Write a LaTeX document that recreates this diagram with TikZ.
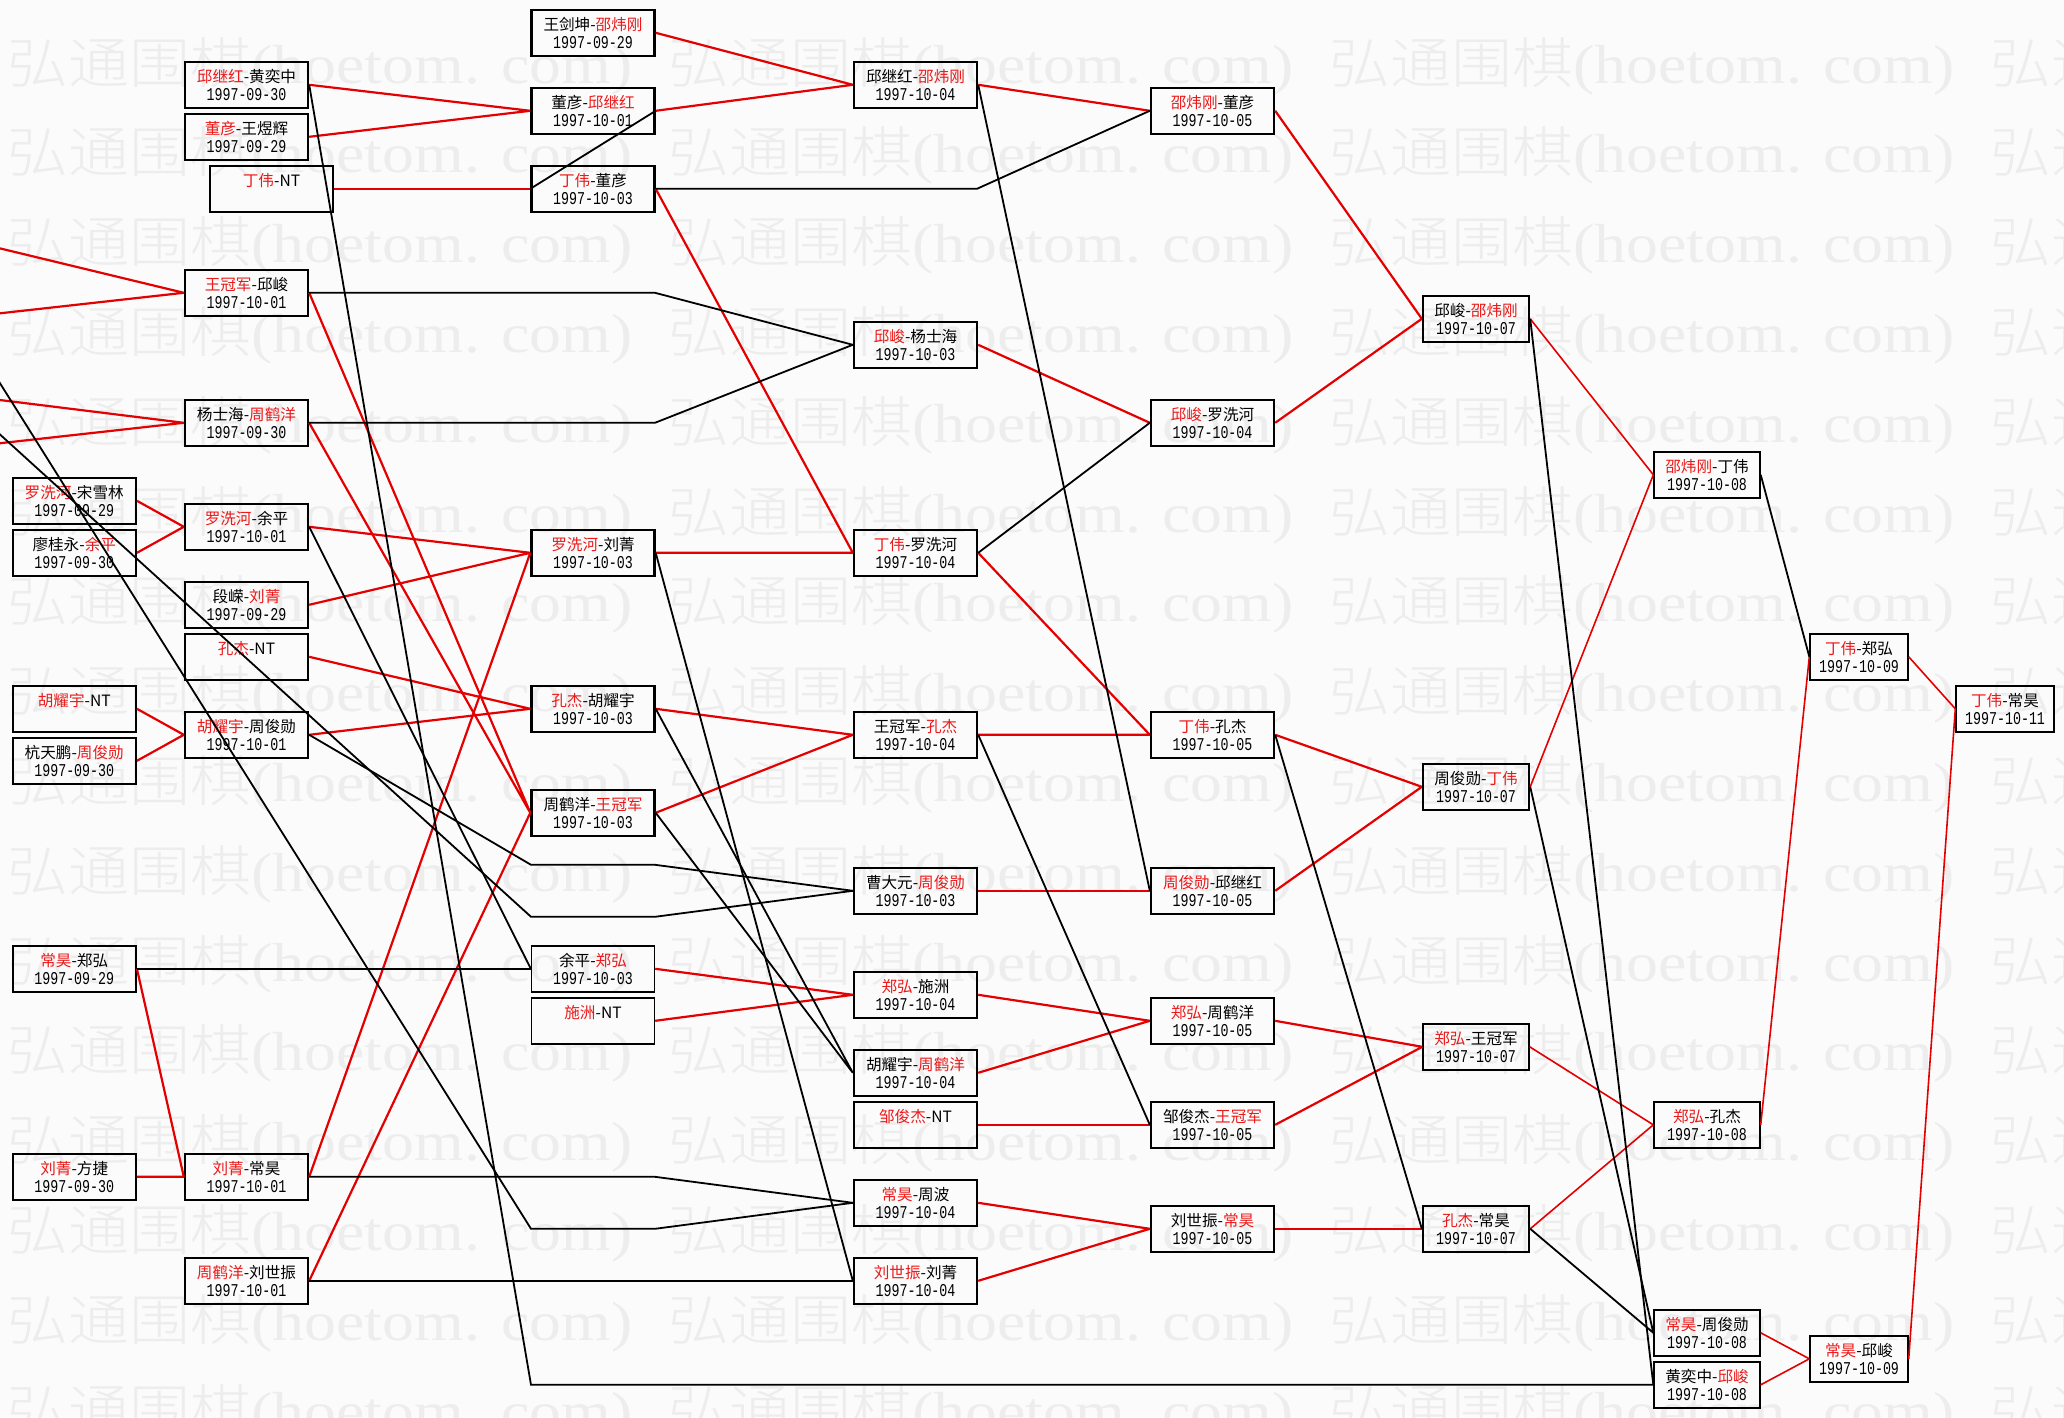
\documentclass[tikz,border=0pt]{standalone}
\usepackage{fontspec}
\usepackage{xcolor}
\usepackage{tikz}
\newfontfamily\namecjk{Noto Sans CJK SC}
\newfontfamily\datefont[FakeStretch=0.74]{Liberation Mono}
\newfontfamily\wmcjk[FakeStretch=1.11]{Noto Sans CJK SC Light}
\newfontfamily\wmlat[FakeStretch=1.16]{Liberation Serif}
\definecolor{tred}{RGB}{235,25,25}
\definecolor{lred}{RGB}{228,0,0}
\definecolor{paper}{RGB}{251,251,251}
\definecolor{wmgray}{RGB}{237,237,237}
\newcommand\rn[1]{\textcolor{tred}{#1}}
\newcommand\dt[1]{{\datefont\fontsize{9}{9}\selectfont #1}}

\begin{document}
\begin{tikzpicture}[x=0.5pt, y=-0.5pt,
    game/.style={draw, rectangle, line width=1.2pt, minimum width=61.5pt, minimum height=23pt,
      inner sep=0pt, align=center, font=\namecjk\fontsize{7.8}{9}\selectfont},
    light/.style={line width=0.7pt},
    midbox/.style={game, minimum width=53pt},
    endbox/.style={game, minimum width=49pt},
    win/.style={draw=lred, line width=1.1pt},
    winthin/.style={draw=lred, line width=0.8pt},
    lose/.style={draw=black, line width=0.9pt},
    wm/.style={anchor=west, inner sep=0pt, text=wmgray}
  ]
  \useasboundingbox (0,0) rectangle (2064,1417);
  \clip (0,0) rectangle (2064,1417);
  \fill[paper] (0,0) rectangle (2064,1417);

  \foreach \j in {0,...,15}
    \foreach \i in {0,...,3}
      \node[wm] at ({7+661*\i},{66+89.8*\j})
        {\wmcjk\fontsize{27.5}{27.5}\selectfont 弘通围棋\wmlat(hoetom. com)};

  \node[game] (a19) at (74.25,500.8) {\rn{罗洗河}-宋雪林\\\dt{1997-09-29}};
  \node[game] (a21) at (74.25,552.8) {廖桂永-\rn{余平}\\\dt{1997-09-30}};
  \node[game] (a27) at (74.25,708.8) {\rn{胡耀宇}-NT\\\dt{\phantom{0}}};
  \node[game] (a29) at (74.25,760.8) {杭天鹏-\rn{周俊勋}\\\dt{1997-09-30}};
  \node[game] (a37) at (74.25,968.8) {\rn{常昊}-郑弘\\\dt{1997-09-29}};
  \node[game] (a45) at (74.25,1176.8) {\rn{刘菁}-方捷\\\dt{1997-09-30}};

  \node[game] (b3) at (246.5,84.8) {\rn{邱继红}-黄奕中\\\dt{1997-09-30}};
  \node[game] (b5) at (246.5,136.8) {\rn{董彦}-王煜辉\\\dt{1997-09-29}};
  \node[game] (b7) at (271.5,188.8) {\rn{丁伟}-NT\\\dt{\phantom{0}}};
  \node[game] (b11) at (246.5,292.8) {\rn{王冠军}-邱峻\\\dt{1997-10-01}};
  \node[game] (b16) at (246.5,422.8) {杨士海-\rn{周鹤洋}\\\dt{1997-09-30}};
  \node[game] (b20) at (246.5,526.8) {\rn{罗洗河}-余平\\\dt{1997-10-01}};
  \node[game] (b23) at (246.5,604.8) {段嵘-\rn{刘菁}\\\dt{1997-09-29}};
  \node[game] (b25) at (246.5,656.8) {\rn{孔杰}-NT\\\dt{\phantom{0}}};
  \node[game] (b28) at (246.5,734.8) {\rn{胡耀宇}-周俊勋\\\dt{1997-10-01}};
  \node[game] (b45) at (246.5,1176.8) {\rn{刘菁}-常昊\\\dt{1997-10-01}};
  \node[game] (b49) at (246.5,1280.8) {\rn{周鹤洋}-刘世振\\\dt{1997-10-01}};

  \node[game] (c1) at (593,32.8) {王剑坤-\rn{邵炜刚}\\\dt{1997-09-29}};
  \node[game] (c4) at (593,110.8) {董彦-\rn{邱继红}\\\dt{1997-10-01}};
  \node[game] (c7) at (593,188.8) {\rn{丁伟}-董彦\\\dt{1997-10-03}};
  \node[game] (c21) at (593,552.8) {\rn{罗洗河}-刘菁\\\dt{1997-10-03}};
  \node[game] (c27) at (593,708.8) {\rn{孔杰}-胡耀宇\\\dt{1997-10-03}};
  \node[game] (c31) at (593,812.8) {周鹤洋-\rn{王冠军}\\\dt{1997-10-03}};
  \node[game, light] (c37) at (593,968.8) {余平-\rn{郑弘}\\\dt{1997-10-03}};
  \node[game, light] (c39) at (593,1020.8) {\rn{施洲}-NT\\\dt{\phantom{0}}};

  \node[game] (d3) at (915.5,84.8) {邱继红-\rn{邵炜刚}\\\dt{1997-10-04}};
  \node[game] (d13) at (915.5,344.8) {\rn{邱峻}-杨士海\\\dt{1997-10-03}};
  \node[game] (d21) at (915.5,552.8) {\rn{丁伟}-罗洗河\\\dt{1997-10-04}};
  \node[game] (d28) at (915.5,734.8) {王冠军-\rn{孔杰}\\\dt{1997-10-04}};
  \node[game] (d34) at (915.5,890.8) {曹大元-\rn{周俊勋}\\\dt{1997-10-03}};
  \node[game] (d38) at (915.5,994.8) {\rn{郑弘}-施洲\\\dt{1997-10-04}};
  \node[game] (d41) at (915.5,1072.8) {胡耀宇-\rn{周鹤洋}\\\dt{1997-10-04}};
  \node[game] (d43) at (915.5,1124.8) {\rn{邹俊杰}-NT\\\dt{\phantom{0}}};
  \node[game] (d46) at (915.5,1202.8) {\rn{常昊}-周波\\\dt{1997-10-04}};
  \node[game] (d49) at (915.5,1280.8) {\rn{刘世振}-刘菁\\\dt{1997-10-04}};

  \node[game] (e4) at (1212.5,110.8) {\rn{邵炜刚}-董彦\\\dt{1997-10-05}};
  \node[game] (e16) at (1212.5,422.8) {\rn{邱峻}-罗洗河\\\dt{1997-10-04}};
  \node[game] (e28) at (1212.5,734.8) {\rn{丁伟}-孔杰\\\dt{1997-10-05}};
  \node[game] (e34) at (1212.5,890.8) {\rn{周俊勋}-邱继红\\\dt{1997-10-05}};
  \node[game] (e39) at (1212.5,1020.8) {\rn{郑弘}-周鹤洋\\\dt{1997-10-05}};
  \node[game] (e43) at (1212.5,1124.8) {邹俊杰-\rn{王冠军}\\\dt{1997-10-05}};
  \node[game] (e47) at (1212.5,1228.8) {刘世振-\rn{常昊}\\\dt{1997-10-05}};

  \node[midbox] (f12) at (1476,318.8) {邱峻-\rn{邵炜刚}\\\dt{1997-10-07}};
  \node[midbox] (f30) at (1476,786.8) {周俊勋-\rn{丁伟}\\\dt{1997-10-07}};
  \node[midbox, light] (f40) at (1476,1046.8) {\rn{郑弘}-王冠军\\\dt{1997-10-07}};
  \node[midbox] (f47) at (1476,1228.8) {\rn{孔杰}-常昊\\\dt{1997-10-07}};

  \node[midbox, light] (g18) at (1707,474.8) {\rn{邵炜刚}-丁伟\\\dt{1997-10-08}};
  \node[midbox, light] (g43) at (1707,1124.8) {\rn{郑弘}-孔杰\\\dt{1997-10-08}};
  \node[midbox, light] (g51) at (1707,1332.8) {\rn{常昊}-周俊勋\\\dt{1997-10-08}};
  \node[midbox, light] (g53) at (1707,1384.8) {黄奕中-\rn{邱峻}\\\dt{1997-10-08}};

  \node[endbox, light] (h25) at (1859,656.8) {\rn{丁伟}-郑弘\\\dt{1997-10-09}};
  \node[endbox, light] (h52) at (1859,1358.8) {\rn{常昊}-邱峻\\\dt{1997-10-09}};

  \node[endbox, light] (i27) at (2005,708.8) {\rn{丁伟}-常昊\\\dt{1997-10-11}};

  \coordinate (o1) at (-60,233.9);
  \coordinate (o2) at (-60,320);
  \coordinate (o3) at (-60,392.6);
  \coordinate (o4) at (-60,449.9);
  \coordinate (cdy0) at (-60,380);
  \coordinate (zb0) at (-60,287.7);
  \coordinate (cdy1) at (531,916.8);
  \coordinate (cdy2) at (655,916.8);
  \coordinate (zjx1) at (531,864.8);
  \coordinate (zjx2) at (655,864.8);
  \coordinate (zb1) at (531,1228.8);
  \coordinate (zb2) at (655,1228.8);
  \coordinate (ch1) at (655,1176.8);
  \coordinate (hyz1) at (531,1384.8);
  \coordinate (qj1) at (655,292.8);
  \coordinate (ysh1) at (655,422.8);
  \coordinate (dy1) at (977,188.8);

  \draw[win] (o1) -- (b11.west) (o2) -- (b11.west);
  \draw[win] (o3) -- (b16.west) (o4) -- (b16.west);
  \draw[win] (a19.east) -- (b20.west) (a21.east) -- (b20.west);
  \draw[win] (a27.east) -- (b28.west) (a29.east) -- (b28.west);
  \draw[win] (a37.east) -- (b45.west) (a45.east) -- (b45.west);
  \draw[win] (b3.east) -- (c4.west) (b5.east) -- (c4.west);
  \draw[win] (b7.east) -- (c7.west);
  \draw[win] (b20.east) -- (c21.west) (b23.east) -- (c21.west) (b45.east) -- (c21.west);
  \draw[win] (b25.east) -- (c27.west) (b28.east) -- (c27.west);
  \draw[win] (b11.east) -- (c31.west) (b16.east) -- (c31.west) (b49.east) -- (c31.west);
  \draw[win] (c1.east) -- (d3.west) (c4.east) -- (d3.west);
  \draw[win] (c7.east) -- (d21.west) (c21.east) -- (d21.west);
  \draw[win] (c27.east) -- (d28.west) (c31.east) -- (d28.west);
  \draw[win] (c37.east) -- (d38.west) (c39.east) -- (d38.west);
  \draw[win] (d3.east) -- (e4.west);
  \draw[win] (d13.east) -- (e16.west);
  \draw[win] (d21.east) -- (e28.west) (d28.east) -- (e28.west);
  \draw[win] (d34.east) -- (e34.west);
  \draw[win] (d38.east) -- (e39.west) (d41.east) -- (e39.west);
  \draw[win] (d43.east) -- (e43.west);
  \draw[win] (d46.east) -- (e47.west) (d49.east) -- (e47.west);
  \draw[win] (e4.east) -- (f12.west) (e16.east) -- (f12.west);
  \draw[win] (e28.east) -- (f30.west) (e34.east) -- (f30.west);
  \draw[win] (e39.east) -- (f40.west) (e43.east) -- (f40.west);
  \draw[win] (e47.east) -- (f47.west);
  \draw[winthin] (f12.east) -- (g18.west) (f30.east) -- (g18.west);
  \draw[winthin] (f40.east) -- (g43.west) (f47.east) -- (g43.west);
  \draw[winthin] (g43.east) -- (h25.west);
  \draw[winthin] (g51.east) -- (h52.west) (g53.east) -- (h52.west);
  \draw[winthin] (h25.east) -- (i27.west) (h52.east) -- (i27.west);

  \draw[lose] (cdy0) -- (cdy1) -- (cdy2) -- (d34.west);
  \draw[lose] (zb0) -- (zb1) -- (zb2) -- (d46.west);
  \draw[lose] (a37.east) -- (c37.west);
  \draw[lose] (b20.east) -- (c37.west);
  \draw[lose] (b28.east) -- (zjx1) -- (zjx2) -- (d34.west);
  \draw[lose] (b45.east) -- (ch1) -- (d46.west);
  \draw[lose] (b49.east) -- (d49.west);
  \draw[lose] (b3.east) -- (hyz1) -- (g53.west);
  \draw[lose] (b11.east) -- (qj1) -- (d13.west);
  \draw[lose] (b16.east) -- (ysh1) -- (d13.west);
  \draw[lose] (c4.east) -- (c7.west);
  \draw[lose] (c7.east) -- (dy1) -- (e4.west);
  \draw[lose] (c21.east) -- (d49.west);
  \draw[lose] (c27.east) -- (d41.west) (c31.east) -- (d41.west);
  \draw[lose] (d3.east) -- (e34.west);
  \draw[lose] (d21.east) -- (e16.west);
  \draw[lose] (d28.east) -- (e43.west);
  \draw[lose] (e28.east) -- (f47.west);
  \draw[lose] (f12.east) -- (g53.west);
  \draw[lose] (f30.east) -- (g51.west) (f47.east) -- (g51.west);
  \draw[lose] (g18.east) -- (h25.west);
\end{tikzpicture}
\end{document}
